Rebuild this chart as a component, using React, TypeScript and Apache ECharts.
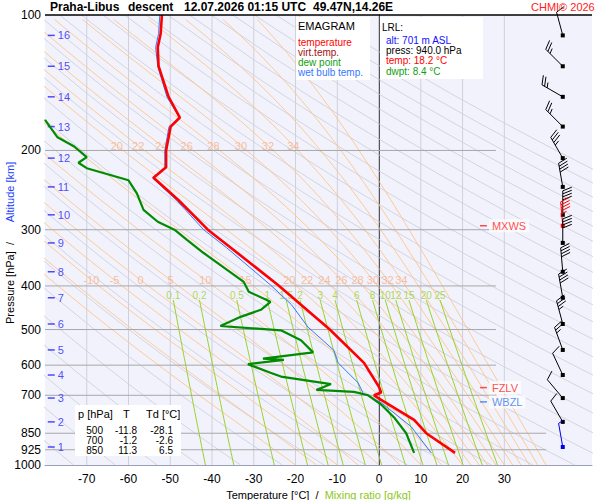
import { useEffect, useRef } from 'react';
import * as echarts from 'echarts';

// sounding: [pressure hPa, value °C]
const temperature = [
  [100, -52], [110, -52.3], [118, -53], [130, -52.8], [152, -50.4], [169, -47.7],
  [177, -49.9], [200, -51], [218, -51], [230, -54], [258, -48], [300, -41],
  [329, -35.5], [398, -24.2], [500, -11.8], [593, -3.6], [671, 0], [690, 0.5],
  [700, -1.2], [717, 0.5], [794, 8.4], [850, 11.3], [940, 18.2],
];
const dewPoint = [
  [171, -80], [187, -77], [196, -73], [207, -70], [213, -72], [219, -70], [233, -60],
  [249, -58], [271, -56.4], [288, -53], [300, -49], [316, -46], [338, -42], [392, -32.4],
  [412, -31.2], [434, -26], [452, -28.3], [468, -33], [491, -38], [502, -23.5],
  [528, -18.7], [562, -15.8], [580, -27.8], [584, -22.8], [597, -31.4], [624, -26],
  [636, -23.5], [661, -11.5], [681, -15], [688, -6], [700, -2.6], [734, 0.5],
  [784, 3.6], [850, 6.5], [940, 8.4],
];
const wetBulb = [
  [100, -52.5], [110, -52.8], [118, -53.5], [130, -53], [152, -50.8], [169, -47.8],
  [177, -50.3], [200, -51.3], [218, -51.3], [230, -54.3], [258, -48.5], [300, -42],
  [329, -36.5], [398, -26], [440, -21], [494, -17], [556, -10.8], [593, -9.8],
  [657, -5], [693, -3.8], [727, 0.5], [822, 7.7], [940, 12.5],
];
// altitude ticks: [km, pressure]
const altitudeKm = [
  [16, 111], [15, 130], [14, 152], [13, 177], [12, 208], [11, 241], [10, 278], [9, 321],
  [8, 372], [7, 425], [6, 486], [5, 555], [4, 631], [3, 710], [2, 802], [1, 912],
];
// wind: [pressure, direction deg, speed kt, colour index]
const winds = [
  [111, 345, 10, 0], [130, 315, 25, 0], [152, 300, 25, 0], [177, 315, 25, 0],
  [208, 330, 35, 0], [241, 350, 40, 0], [278, 0, 40, 0], [294, 355, 45, 1],
  [321, 0, 40, 0], [372, 355, 40, 0], [425, 350, 40, 0], [486, 345, 35, 0],
  [555, 340, 25, 0], [631, 335, 10, 0], [710, 320, 10, 0], [802, 330, 10, 0],
  [912, 350, 5, 2],
];
const levelMarks = [
  ['MXWS', 294, '#ff2020'],
  ['FZLV', 673, '#ff2020'],
  ['WBZL', 724, '#3377ee'],
];
const pressureTicks = [100, 200, 300, 400, 500, 600, 700, 850, 925, 1000];
const pressureLines = [200, 300, 400, 500, 600, 700, 850, 925];
const tempTicks = [-70, -60, -50, -40, -30, -20, -10, 0, 10, 20, 30];
const isotherms = [-70, -60, -50, -40, -30, -20, -10, 10, 20, 30];
const dryThetas = Array.from({ length: 32 }, (_, i) => 190 + i * 10);
const thetaW = [-20, -15, -10, -5, 0, 5, 10, 15, 20, 22, 24, 26, 28, 30, 32, 34, 36, 38, 40];
const thetaWLabelsHigh = [20, 22, 24, 26, 28, 30, 32, 34];
const thetaWLabelsLow = [-10, -5, 0, 5, 10, 15, 20, 22, 24, 26, 28, 30, 32, 34];
const mixingRatios = [0.1, 0.2, 0.5, 1, 1.5, 2, 3, 4, 6, 8, 10, 12, 15, 20, 25];
const tableRows = [
  ['500', '-11.8', '-28.1'],
  ['700', '-1.2', '-2.6'],
  ['850', '11.3', '6.5'],
];

const lg = (p: number) => Math.log10(p);
const toXY = (arr: number[][]) => arr.map(([p, t]) => [t, lg(p)]);

function moistLine(thw: number) {
  let T = thw + 273.15;
  let lnp = Math.log(1000);
  const step = -0.01;
  const pts: number[][] = [];
  let i = 0;
  while (Math.exp(lnp) >= 99) {
    const p = Math.exp(lnp);
    if (i % 4 === 0) pts.push([T - 273.15, lg(p)]);
    const tc = T - 273.15;
    const es = 6.112 * Math.exp((17.67 * tc) / (tc + 243.5));
    const rs = (0.622 * es) / (p - es);
    const dT = (287 * T + 2.5e6 * rs) / (1004 + (2.5e6 * 2.5e6 * rs * 0.622) / (287 * T * T));
    T += dT * step;
    lnp += step;
    i++;
  }
  return pts;
}
function tAt(line: number[][], y: number) {
  for (let i = 1; i < line.length; i++) {
    const [t0, y0] = line[i - 1];
    const [t1, y1] = line[i];
    if ((y0 - y) * (y1 - y) <= 0) return t0 + ((t1 - t0) * (y - y0)) / (y1 - y0 || 1);
  }
  return line[line.length - 1][0];
}
function mixT(w: number, p: number) {
  const e = (w * p) / (622 + w);
  const l = Math.log(e / 6.112);
  return (243.5 * l) / (17.67 - l);
}

const FONT = "'Liberation Sans', Arial, sans-serif";

export default function App() {
  const ref = useRef<HTMLDivElement>(null);

  useEffect(() => {
    document.body.style.margin = '0';
    if (!ref.current) return;
    const chart = echarts.init(ref.current, undefined, { renderer: 'svg' });

    const thin = (data: number[][], color: string, width = 1, z = 1) => ({
      type: 'line', data, showSymbol: false, silent: true, z,
      lineStyle: { color, width }, clip: true,
    });

    const series: any[] = [];
    dryThetas.forEach((th) => {
      const pts: number[][] = [];
      for (let p = 1000; p >= 100; p -= 25) pts.push([th * Math.pow(p / 1000, 0.286) - 273.15, lg(p)]);
      series.push(thin(pts, '#d4d4de', 1));
    });
    const moist = thetaW.map((t) => moistLine(t));
    moist.forEach((pts) => series.push(thin(pts, '#ffc58a', 0.9, 2)));
    mixingRatios.forEach((w) => {
      const pts: number[][] = [];
      for (let p = 1000; p >= 430; p -= 30) pts.push([mixT(w, p), lg(p)]);
      pts.push([mixT(w, 430), lg(430)]);
      series.push(thin(pts, '#9ad22a', 1, 3));
    });
    isotherms.forEach((t) => series.push(thin([[t, 2], [t, 3]], '#d0d0da', 1, 1)));
    series.push(thin([[0, 2], [0, 3]], '#a0a0a8', 1, 4));
    pressureLines.forEach((p) =>
      series.push(thin([[-80, lg(p)], [p >= 850 ? 40 : 28, lg(p)]], '#a8a8a8', 1, 4)));

    const labelScatter = (data: any[], color: string, size = 11) => ({
      type: 'scatter', data, symbolSize: 0, silent: true, z: 6,
      label: { show: true, formatter: (d: any) => d.data[2], color, fontSize: size, fontFamily: FONT },
    });
    const yHigh = lg(195), yLow = lg(388), yMix = lg(420);
    series.push(labelScatter(thetaWLabelsHigh.map((t) => [tAt(moist[thetaW.indexOf(t)], yHigh), yHigh, String(t)]), '#f5b08a'));
    series.push(labelScatter(thetaWLabelsLow.map((t) => [tAt(moist[thetaW.indexOf(t)], yLow), yLow, String(t)]), '#f5b08a'));
    series.push(labelScatter(mixingRatios.map((w) => [mixT(w, 430), yMix, String(w)]), '#9ad22a', 10));

    series.push({
      type: 'scatter', silent: true, z: 7, symbol: 'rect', symbolSize: [7, 1.5],
      itemStyle: { color: '#2020ff' },
      data: altitudeKm.map(([k, p]) => [-78.5, lg(p), String(k)]),
      label: { show: true, position: 'right', distance: 3, formatter: (d: any) => d.data[2], color: '#2020ff', fontSize: 11, fontFamily: FONT },
    });
    levelMarks.forEach(([name, p, c]) => series.push({
      type: 'scatter', silent: true, z: 7, symbol: 'rect', symbolSize: [7, 1.5],
      itemStyle: { color: c }, data: [[25, lg(p as number), name]],
      label: { show: true, position: 'right', distance: 2, formatter: name, color: c, fontSize: 11, fontFamily: FONT, backgroundColor: 'rgba(255,255,255,0.85)', padding: [1, 3] },
    }));

    series.push(thin(toXY(wetBulb), '#3377ff', 1, 10));
    series.push(thin(toXY(dewPoint), '#008c00', 2.2, 11));
    series.push(thin(toXY(temperature), '#ff0000', 2.6, 12));

    const windColors = ['#000000', '#ff0000', '#0000ee'];
    series.push({
      type: 'custom', silent: true, z: 9, clip: false,
      data: winds.map(([p, d, s, c]) => [44, lg(p), d, s, c]),
      renderItem: (_params: any, api: any) => {
        const [x, y] = api.coord([api.value(0), api.value(1)]);
        const dir = (api.value(2) * Math.PI) / 180;
        let spd = api.value(3);
        const color = windColors[api.value(4)];
        const dx = Math.sin(dir), dy = -Math.cos(dir);
        const L = 24;
        const ex = x + dx * L, ey = y + dy * L;
        const px = -dy, py = dx;
        const st = { stroke: color, lineWidth: 1 };
        const children: any[] = [
          { type: 'line', shape: { x1: x, y1: y, x2: ex, y2: ey }, style: st },
          { type: 'rect', shape: { x: x - 2, y: y - 2, width: 4, height: 4 }, style: { fill: color } },
        ];
        let pos = 0;
        while (spd >= 5) {
          const len = spd >= 10 ? 9 : 5;
          const bx = ex - dx * pos, by = ey - dy * pos;
          children.push({
            type: 'line',
            shape: { x1: bx, y1: by, x2: bx + px * len + dx * len * 0.4, y2: by + py * len + dy * len * 0.4 },
            style: st,
          });
          spd -= spd >= 10 ? 10 : 5;
          pos += 3;
        }
        return { type: 'group', children };
      },
    });

    const txt = (x: number, y: number, text: string, fill: string, size = 10, extra: any = {}) => ({
      type: 'text', x, y, z: 20, style: { text, fill, font: `${size}px ${FONT}`, ...extra },
    });
    const bold = `bold 12px ${FONT}`;

    chart.setOption({
      animation: false,
      grid: {
        left: 45, top: 15, right: 8, bottom: 35, show: true, backgroundColor: '#f2f2fc',
        borderWidth: 0, outerBoundsMode: 'none', containLabel: false,
      },
      xAxis: {
        type: 'value', min: -80, max: 51, interval: 10,
        splitLine: { show: false },
        axisLine: { lineStyle: { color: '#9aa0b8' } },
        axisTick: { show: false },
        axisLabel: { customValues: tempTicks, color: '#000', fontSize: 12, fontFamily: FONT, margin: 8 },
        name: '{a|Temperature [°C]  /  }{b|Mixing ratio [g/kg]}',
        nameLocation: 'middle', nameGap: 22,
        nameTextStyle: {
          rich: {
            a: { color: '#000', fontSize: 11, fontFamily: FONT },
            b: { color: '#8cc820', fontSize: 11, fontFamily: FONT },
          },
        },
      },
      yAxis: {
        type: 'value', min: 2, max: 3, inverse: true,
        splitLine: { show: false },
        axisLine: { show: true, lineStyle: { color: '#000' } },
        axisTick: { show: false },
        axisLabel: {
          customValues: pressureTicks.map(lg),
          formatter: (v: number) => String(Math.round(Math.pow(10, v))),
          color: '#000', fontSize: 12, fontFamily: FONT, margin: 4,
        },
      },
      series,
      graphic: [
        { type: 'line', z: 20, shape: { x1: 45, y1: 15, x2: 592, y2: 15 }, style: { stroke: '#000', lineWidth: 1.5 } },
        {
          type: 'text', x: 10, y: 283, rotation: Math.PI / 2, z: 20,
          style: { text: 'Pressure [hPa]  /', fill: '#000', font: `11px ${FONT}`, align: 'center', verticalAlign: 'middle' },
        },
        {
          type: 'text', x: 10, y: 192, rotation: Math.PI / 2, z: 20,
          style: { text: 'Altitude [km]', fill: '#2040ff', font: `11px ${FONT}`, align: 'center', verticalAlign: 'middle' },
        },
        txt(50, 1, 'Praha-Libus', '#000', 12, { font: bold }),
        txt(128, 1, 'descent', '#000', 12, { font: bold }),
        txt(184, 1, '12.07.2026 01:15 UTC', '#000', 12, { font: bold }),
        txt(313, 1, '49.47N,14.26E', '#000', 12, { font: bold }),
        txt(531, 1, 'CHMI© 2026', '#ff2020', 11),
        { type: 'rect', z: 19, shape: { x: 296, y: 17, width: 74, height: 63 }, style: { fill: '#ffffff' } },
        txt(298, 20, 'EMAGRAM', '#000', 11),
        txt(298, 37, 'temperature', '#ff0000'),
        txt(298, 47, 'virt.temp.', '#a01010'),
        txt(298, 57, 'dew point', '#10a010'),
        txt(298, 67, 'wet bulb temp.', '#3377ff'),
        { type: 'rect', z: 19, shape: { x: 380, y: 17, width: 103, height: 62 }, style: { fill: '#ffffff' } },
        txt(382, 22, 'LRL:', '#000'),
        txt(386, 35, 'alt: 701 m ASL', '#1010ff'),
        txt(386, 45, 'press: 940.0 hPa', '#000'),
        txt(386, 55, 'temp: 18.2 °C', '#ff0000'),
        txt(386, 66, 'dwpt: 8.4 °C', '#10a010'),
        { type: 'rect', z: 19, shape: { x: 75, y: 405, width: 106, height: 51 }, style: { fill: '#ffffff' } },
        txt(78, 408, 'p [hPa]', '#000', 11),
        txt(123, 408, 'T', '#000', 11),
        txt(146, 408, 'Td [°C]', '#000', 11),
        ...tableRows.flatMap((r, i) => [
          txt(103, 425 + i * 10, r[0], '#000', 10, { align: 'right' }),
          txt(137, 425 + i * 10, r[1], '#000', 10, { align: 'right' }),
          txt(173, 425 + i * 10, r[2], '#000', 10, { align: 'right' }),
        ]),
      ],
    });

    return () => chart.dispose();
  }, []);

  return <div ref={ref} style={{ width: 600, height: 500 }} />;
}
